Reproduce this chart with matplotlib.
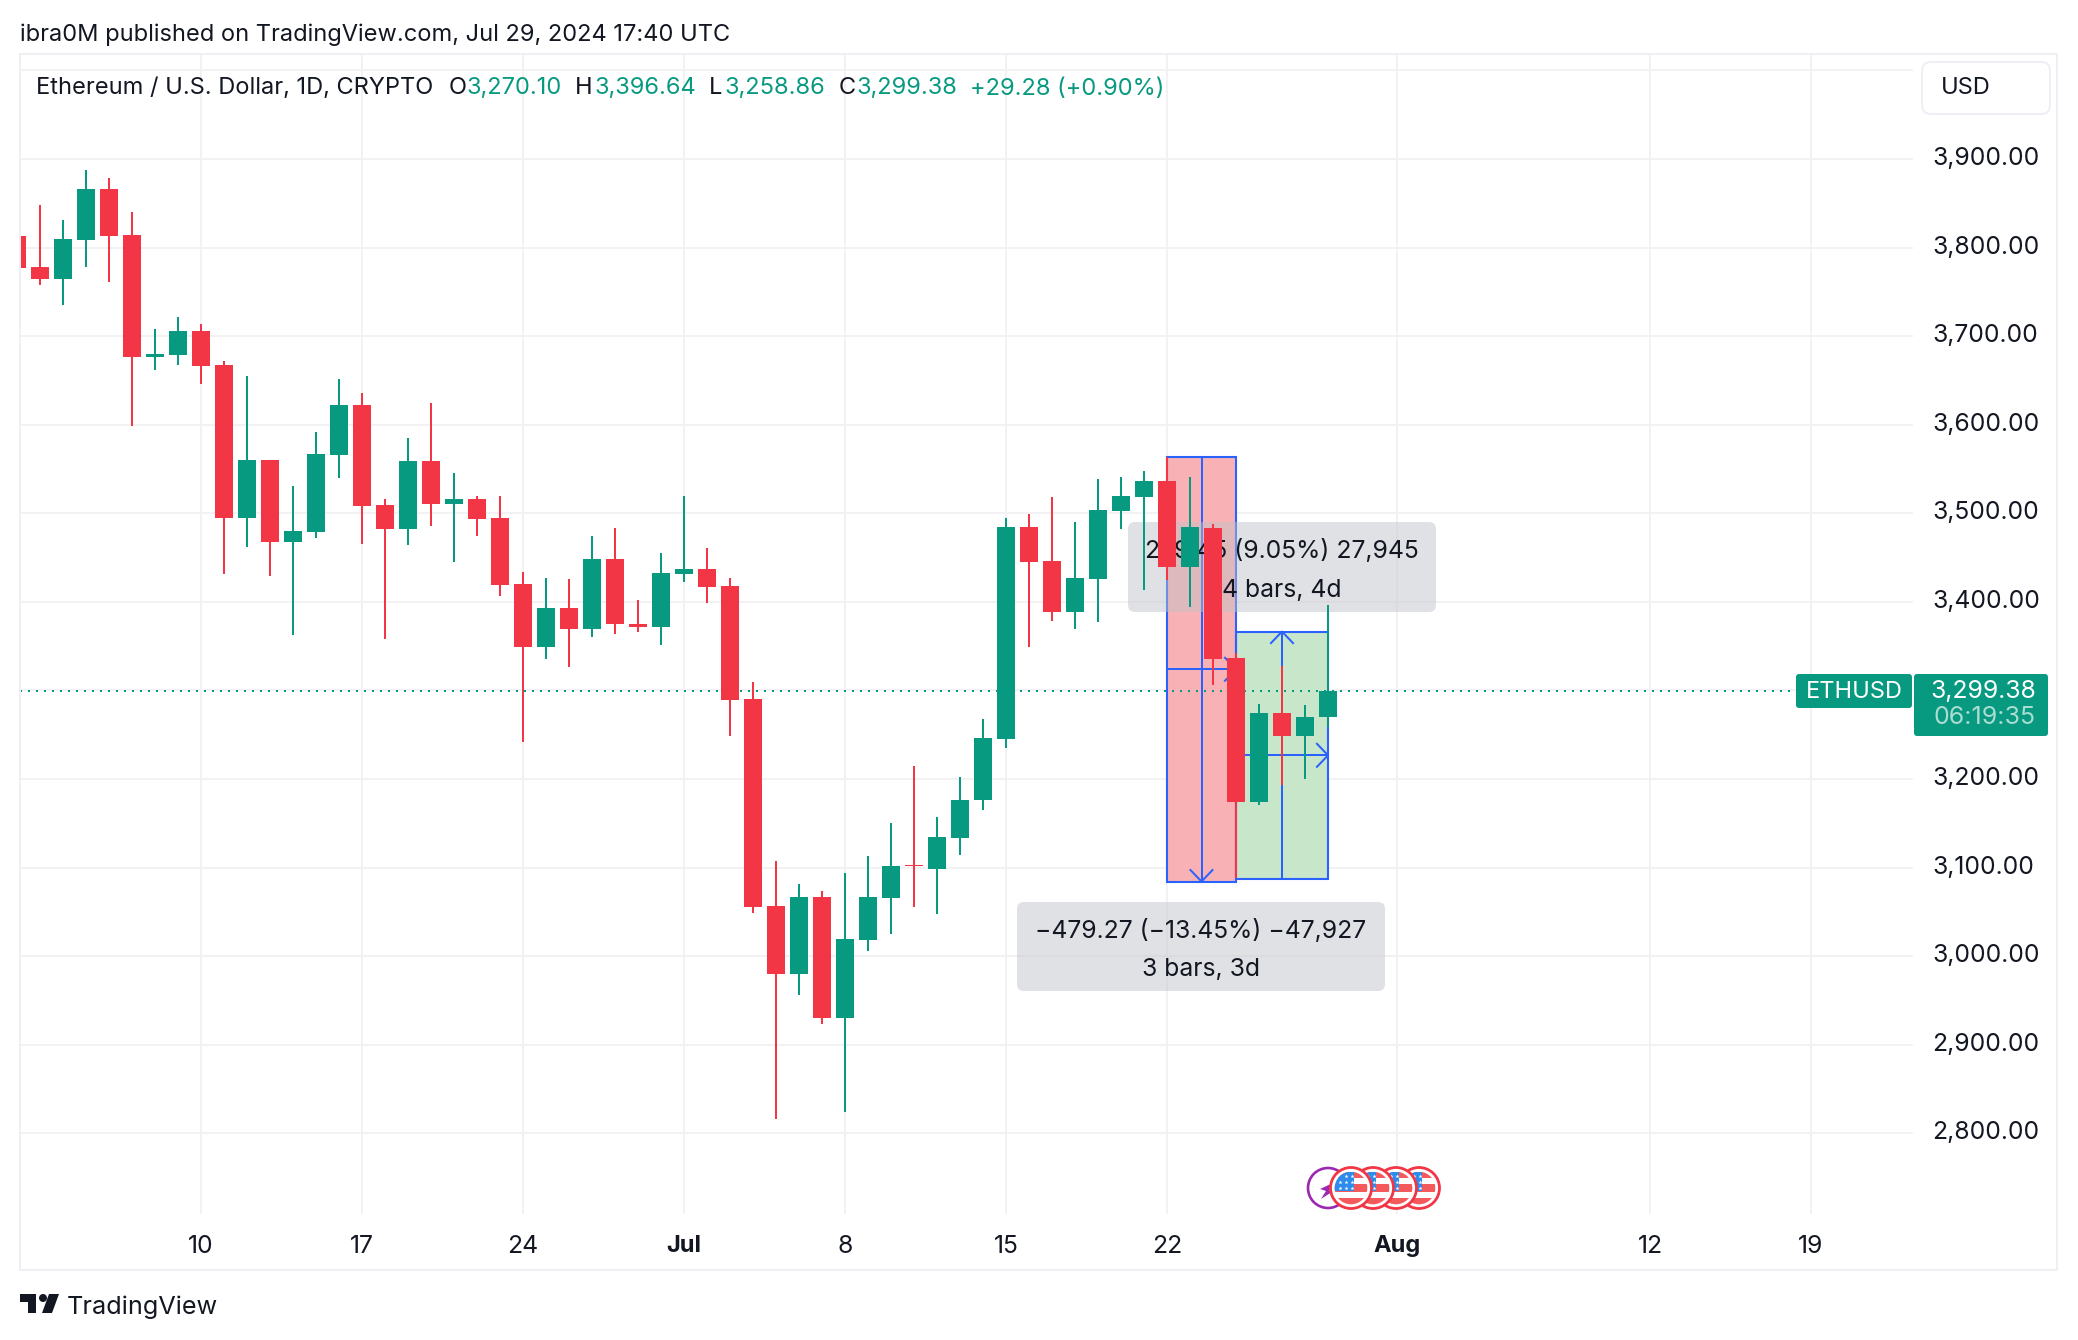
import matplotlib
matplotlib.use('Agg')
import matplotlib.pyplot as plt
import matplotlib.dates as mdates
import numpy as np
import pandas as pd
from matplotlib.patches import Circle, FancyBboxPatch, Polygon, Rectangle
from matplotlib.transforms import IdentityTransform, ScaledTranslation

plt.rcParams['font.family'] = ['Inter', 'DejaVu Sans']

W, H = 2078, 1340
GREEN = '#089981'
RED = '#F23645'
BLUE = '#2962FF'
INK = '#131722'
GRID = '#F2F2F4'
FRAME = '#EFEFF4'

dates = pd.date_range('2024-06-02', '2024-07-29')
opens = [3813, 3778, 3764.5, 3808.5, 3866.1, 3814.2, 3676.4, 3678.7, 3705.8, 3667.4,
         3494.7, 3560.1, 3467.6, 3478.8, 3565.8, 3622.2, 3509.3, 3482.2, 3559, 3510.5,
         3516.1, 3494.7, 3420.1, 3349.3, 3393, 3369.3, 3448.4, 3375, 3371.6, 3431.9,
         3437.4, 3418.1, 3290.4, 3056.8, 2980.3, 3066.9, 2930.5, 3018.5, 3066, 3102.9,
         3098.7, 3133.7, 3176.6, 3245.1, 3484.5, 3446.1, 3388.5, 3425.7, 3502.5, 3518.3,
         3536.4, 3439.3, 3483.3, 3336.6, 3174, 3274.5, 3248.5, 3270.1]
highs = [3813, 3848.1, 3831.1, 3887.6, 3878.5, 3840.2, 3708, 3721.6, 3713.7, 3671.9,
         3655, 3560.1, 3530.8, 3591.8, 3651.6, 3635.8, 3516.1, 3585, 3624.5, 3545.5,
         3519.5, 3519.5, 3433.7, 3426.9, 3425.8, 3474.3, 3483.4, 3402.1, 3455.1, 3519.5,
         3460.9, 3427.3, 3309.8, 3107.9, 3081.7, 3073.8, 3094.1, 3113.5, 3150.8, 3214.8,
         3157.2, 3202.4, 3267.8, 3494.6, 3499.2, 3518.3, 3490.1, 3538.7, 3540.9, 3547.7,
         3563.5, 3540.9, 3487.9, 3341.8, 3284.6, 3327.5, 3283.5, 3396.64]
lows = [3777, 3757.7, 3735.2, 3778, 3761.1, 3598.5, 3661.8, 3667.4, 3645.9, 3431.4,
        3461.9, 3429.2, 3362.6, 3472, 3539.8, 3465.3, 3358, 3464.2, 3485.6, 3445,
        3474.3, 3406.6, 3241.8, 3335.8, 3326.9, 3360.3, 3363.7, 3365.9, 3350.8, 3422.2,
        3399.2, 3249, 3048.9, 2816, 2956.3, 2923.6, 2824.5, 3005.2, 3025.4, 3055.9,
        3048, 3114.4, 3165.5, 3234.9, 3349, 3378.3, 3369.3, 3377.2, 3482.2, 3413.3,
        3424.6, 3394.1, 3306.1, 3087.8, 3170.6, 3193.2, 3199.9, 3258.86]
closes = [3777, 3764.5, 3809.7, 3866.1, 3813.1, 3676.4, 3679.8, 3705.8, 3666.3, 3494.7,
          3560.1, 3467.6, 3480, 3566.9, 3622.2, 3508.2, 3482.2, 3559, 3510.5, 3516.1,
          3493.5, 3419, 3349.3, 3393, 3369.3, 3448.4, 3375, 3371.6, 3432.6, 3437.4,
          3417.1, 3289.5, 3055.9, 2980.3, 3066.9, 2930.5, 3019.4, 3066.9, 3102, 3101.5,
          3134.6, 3176.6, 3246.6, 3484.5, 3444.9, 3388.5, 3426.9, 3503.7, 3519.5, 3536.4,
          3439.3, 3484.5, 3335.4, 3174, 3274.5, 3248.5, 3269.9, 3299.38]

price_ticks = [2800, 2900, 3000, 3100, 3200, 3300, 3400, 3500, 3600, 3700, 3800, 3900, 4000]
price_labels = ['2,800.00', '2,900.00', '3,000.00', '3,100.00', '3,200.00', '3,300.00',
                '3,400.00', '3,500.00', '3,600.00', '3,700.00', '3,800.00', '3,900.00', '']
time_ticks = ['2024-06-10', '2024-06-17', '2024-06-24', '2024-07-01', '2024-07-08',
              '2024-07-15', '2024-07-22', '2024-08-01', '2024-08-12', '2024-08-19']
time_labels = ['10', '17', '24', 'Jul', '8', '15', '22', 'Aug', '12', '19']

short_box = {'start': '2024-07-22', 'end': '2024-07-25', 'top': 3563.5, 'bottom': 3084.2}
long_box = {'start': '2024-07-25', 'end': '2024-07-29', 'top': 3366.4, 'bottom': 3087.0}
last_price = 3299.38


def px(x, y):
    return x, H - y


def num(d):
    return mdates.date2num(pd.Timestamp(d))


def ptext(x, y, s, size=17, color=INK, ha='left', va='center', zorder=10, **kw):
    # inter's line box sits a little high, so nudge down
    xx, yy = px(x, y + 2.5)
    return ax.text(xx, yy, s, transform=IdentityTransform(), fontsize=size, color=color,
                   ha=ha, va=va, zorder=zorder, clip_on=False, **kw)


def round_box(x0, y0, x1, y1, radius, fc, ec='none', lw=0, alpha=None, zorder=4):
    p = FancyBboxPatch(px(x0, y1), x1 - x0, y1 - y0,
                       boxstyle='round,pad=0,rounding_size=%s' % radius,
                       transform=IdentityTransform(), fc=fc, ec=ec, lw=lw, alpha=alpha,
                       zorder=zorder, clip_on=False)
    ax.add_patch(p)
    return p


fig = plt.figure(figsize=(W / 100, H / 100), dpi=100, facecolor='white')
ax = fig.add_axes([20 / W, (H - 1214) / H, (1913 - 20) / W, (1214 - 55) / H])
ax.patch.set_alpha(0)
for s in ax.spines.values():
    s.set_visible(False)

d0 = num('2024-06-10')
ax.set_xlim(d0 - 181 / 23, d0 + 1712 / 23)
ax.set_ylim(2708.8, 4017.4)

ax.yaxis.tick_right()
ax.set_yticks(price_ticks, price_labels)
ax.set_xticks([num(t) for t in time_ticks], time_labels)
ax.tick_params(axis='y', length=0, pad=13.6, labelsize=17.8, labelcolor=INK)
ax.tick_params(axis='x', length=0, pad=15.2, labelsize=17.8, labelcolor=INK)
for lab in ax.get_xticklabels():
    if lab.get_text() in ('Jul', 'Aug'):
        lab.set_fontweight('bold')
        lab.set_fontsize(17)
for lab in ax.get_yticklabels():
    lab.set_transform(lab.get_transform() + ScaledTranslation(0, 2 / 72, fig.dpi_scale_trans))
ax.grid(True, color=GRID, lw=1.44, zorder=0)
ax.set_axisbelow(True)

# position tool boxes
x0, x1 = num(short_box['start']), num(short_box['end'])
ax.add_patch(Rectangle((x0, short_box['bottom']), x1 - x0, short_box['top'] - short_box['bottom'],
                       fc='#F8B1B5', ec='none', zorder=2))
x2, x3 = num(long_box['start']), num(long_box['end'])
ax.add_patch(Rectangle((x2, long_box['bottom']), x3 - x2, long_box['top'] - long_box['bottom'],
                       fc='#C8E6C9', ec='none', zorder=2))
ax.add_patch(Rectangle((x0, short_box['bottom']), x1 - x0, short_box['top'] - short_box['bottom'],
                       fc='none', ec=BLUE, lw=1.5, zorder=3))
ax.add_patch(Rectangle((x2, long_box['bottom']), x3 - x2, long_box['top'] - long_box['bottom'],
                       fc='none', ec=BLUE, lw=1.5, zorder=3))

# arrows inside the boxes
dx, dy = 0.48, 13
xm = (x0 + x1) / 2
ym = (short_box['top'] + short_box['bottom']) / 2
ax.plot([xm, xm], [short_box['top'], short_box['bottom']], color=BLUE, lw=1.44, zorder=3)
ax.plot([xm - dx, xm, xm + dx], [short_box['bottom'] + dy, short_box['bottom'], short_box['bottom'] + dy],
        color=BLUE, lw=1.44, zorder=3)
ax.plot([x0, x1], [ym, ym], color=BLUE, lw=1.44, zorder=3)
ax.plot([x1 - dx, x1, x1 - dx], [ym + dy, ym, ym - dy], color=BLUE, lw=1.44, zorder=3)

xm = (x2 + x3) / 2
ym = (long_box['top'] + long_box['bottom']) / 2
ax.plot([xm, xm], [long_box['top'], long_box['bottom']], color=BLUE, lw=1.44, zorder=3)
ax.plot([xm - dx, xm, xm + dx], [long_box['top'] - dy, long_box['top'], long_box['top'] - dy],
        color=BLUE, lw=1.44, zorder=3)
ax.plot([x2, x3], [ym, ym], color=BLUE, lw=1.44, zorder=3)
ax.plot([x3 - dx, x3, x3 - dx], [ym + dy, ym, ym - dy], color=BLUE, lw=1.44, zorder=3)

# measure labels
round_box(1128, 522, 1436, 612, 7, '#BFC1C8', alpha=0.47)
round_box(1017, 902, 1385, 991, 7, '#BFC1C8', alpha=0.47)
ptext(1282, 548, '279.45 (9.05%) 27,945', size=17.8, ha='center', zorder=5)
ptext(1282, 588, '4 bars, 4d', size=17.8, ha='center', zorder=5)
ptext(1201, 928, '\u2212479.27 (\u221213.45%) \u221247,927', size=17.8, ha='center', zorder=5)
ptext(1201, 967, '3 bars, 3d', size=17.8, ha='center', zorder=5)

# last price line
ax.axhline(last_price, xmax=(1796 - 20) / (1913 - 20), color=GREEN, lw=1.44,
           ls=(0, (1, 3)), zorder=4.5)

# candles
x = mdates.date2num(dates)
o, h, l, c = map(np.array, (opens, highs, lows, closes))
colors = np.where(c >= o, GREEN, RED)
ax.vlines(x, l, h, colors=colors, lw=1.44, zorder=6)
ax.bar(x, np.abs(c - o), bottom=np.minimum(o, c), width=18 / 23, color=colors, lw=0, zorder=6)

# price scale tags
round_box(1796, 674, 1912, 708, 3, GREEN, zorder=7)
round_box(1914, 674, 2048, 736, 3, GREEN, zorder=7)
ptext(1854, 689, 'ETHUSD', color='white', ha='center')
ptext(2036, 689, '3,299.38', size=17.8, color='white', ha='right')
ptext(2036, 715, '06:19:35', size=18, color='#A9DDD1', ha='right')

# USD button
round_box(1922, 62, 2050, 114, 9, 'white', ec='#EEEFF4', lw=1.4, zorder=7)
ptext(1941, 85, 'USD')

# outer frame
fig.add_artist(Rectangle((20, H - 1270), 2037, 1216, transform=IdentityTransform(),
                         fc='none', ec=FRAME, lw=1.44))

# event badges
cy = 1188
bx = 1328
ax.add_patch(Circle(px(bx, cy), 20, fc='white', ec='#9C27B0', lw=1.9,
                    transform=IdentityTransform(), zorder=8, clip_on=False))
bolt = [(-8, 1), (5, -5), (1, 3), (7, 2), (-7, 11), (-2, 3)]
ax.add_patch(Polygon([px(bx + a, cy + b) for a, b in bolt], fc='#9C27B0', ec='none',
                     transform=IdentityTransform(), zorder=8, clip_on=False))

flag_x = [1419, 1396, 1373, 1351]
for i, fx in enumerate(flag_x):
    z = 8.1 + i * 0.1
    ax.add_patch(Circle(px(fx, cy), 20.5, fc='white', ec=RED, lw=2,
                        transform=IdentityTransform(), zorder=z, clip_on=False))
    clip = Circle(px(fx, cy), 16.3, transform=IdentityTransform())
    for y0, y1 in [(-16, -10), (-4, 4), (10, 16.5)]:
        r = Rectangle(px(fx - 17, cy + y1), 34, y1 - y0, fc='#F4595C', ec='none',
                      transform=IdentityTransform(), zorder=z + 0.01)
        ax.add_patch(r)
        r.set_clip_path(clip)
    r = Rectangle(px(fx - 17, cy + 3), 20, 19, fc='#2D8CEB', ec='none',
                  transform=IdentityTransform(), zorder=z + 0.02)
    ax.add_patch(r)
    r.set_clip_path(clip)
    sx, sy = [], []
    for row, nn in zip((-12, -6, 0), (2, 3, 3)):
        for k in range(nn):
            xx, yy = px(fx - 11.5 + 6 * k + (6 if nn == 2 else 0), cy + row)
            sx.append(xx)
            sy.append(yy)
    ax.scatter(sx, sy, s=9, marker='*', color='white', lw=0, transform=IdentityTransform(),
               zorder=z + 0.03, clip_on=False)

# header
ptext(20, 32, 'ibra0M published on TradingView.com, Jul 29, 2024 17:40 UTC')
ptext(36, 86, 'Ethereum / U.S. Dollar, 1D, CRYPTO')
for lx, letter, vx, val in [(449, 'O', 467, '3,270.10'), (575, 'H', 594, '3,396.64'),
                            (709, 'L', 725, '3,258.86'), (839, 'C', 856, '3,299.38')]:
    ptext(lx, 86, letter)
    ptext(vx, 86, val, color=GREEN)
ptext(970, 86, '+29.28 (+0.90%)', color=GREEN)

# logo
logo_t = [(20, 1294), (36, 1294), (36, 1313), (28, 1313), (28, 1302), (20, 1302)]
logo_s = [(49, 1294), (59, 1294), (52, 1313), (42, 1313)]
for poly in (logo_t, logo_s):
    ax.add_patch(Polygon([px(a, b) for a, b in poly], fc=INK, ec='none',
                         transform=IdentityTransform(), clip_on=False, zorder=8))
ax.add_patch(Circle(px(43, 1298), 4, fc=INK, ec='none', transform=IdentityTransform(),
                    clip_on=False, zorder=8))
ptext(67, 1305, 'TradingView', size=18.2)

fig.savefig('out.png', dpi=100, facecolor='white')
